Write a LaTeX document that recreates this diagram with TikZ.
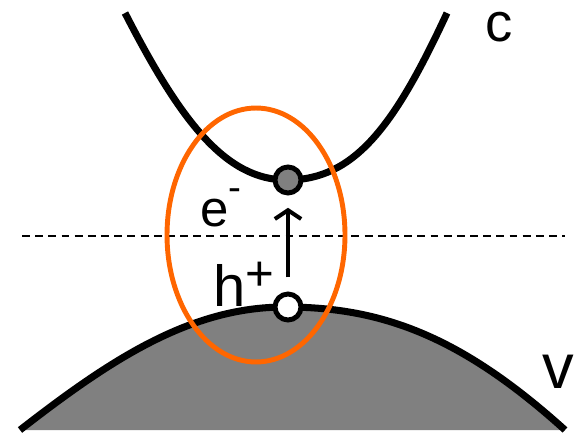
\documentclass[tikz,border=0pt]{standalone}
\usepackage{fontspec}
\setmainfont{Liberation Sans}
\usetikzlibrary{arrows.meta}
\definecolor{exorange}{RGB}{255,102,0}
\definecolor{bandgray}{RGB}{128,128,128}
\newcommand{\raisedsign}[3]{\raisebox{#1}{\fontsize{#2}{#2}\selectfont #3}}

\begin{document}
\begin{tikzpicture}[x=0.02cm,y=-0.02cm,
  band/.style={line width=4pt},
  carrier/.style={circle,draw,line width=2.8pt,minimum size=0.52cm,inner sep=0pt},
  lbl/.style={anchor=base west,inner sep=0pt}]
 \useasboundingbox (0,0) rectangle (577,435);
 % valence band, filled
 \fill[bandgray] (20,430) .. controls (110,360) and (190,307) .. (285,307) .. controls (380,307) and (460,335) .. (565,430) -- cycle;
 \draw[band] (20,430) .. controls (110,360) and (190,307) .. (285,307) .. controls (380,307) and (460,335) .. (565,430);
 % conduction band
 \draw[band] (125,13) .. controls (180,120) and (225,180) .. (287,180) .. controls (355,180) and (395,125) .. (447,13);
 % fermi level
 \coordinate (fl) at (22,236);\coordinate (fr) at (565,236);
 \draw[line width=0.8pt,dash pattern=on 4.5pt off 3pt] (fl) -- (fr);
 % exciton
 \draw[exorange,line width=2.8pt] (256,235) ellipse [x radius=1.78cm,y radius=2.54cm];
 \node[carrier,fill=bandgray] (elec) at (288,180) {};
 \node[carrier,fill=white] (hole) at (288,307) {};
 \draw[line width=2.3pt,-{Straight Barb[length=5pt,width=15pt]},shorten <=8pt,shorten >=7pt] (hole) -- (elec);
 \node[lbl,font=\fontsize{29}{29}\selectfont] (elab) at (200,227) {e\raisedsign{15pt}{22}{-}};
 \node[lbl,font=\fontsize{33}{33}\selectfont] (hlab) at (213,306) {h\raisedsign{8.7pt}{28}{+}};
 \node[lbl,font=\fontsize{31}{31}\selectfont] (clab) at (485,42) {c};
 \node[lbl,font=\fontsize{36}{36}\selectfont] (vlab) at (542,388) {v};
\end{tikzpicture}
\end{document}
